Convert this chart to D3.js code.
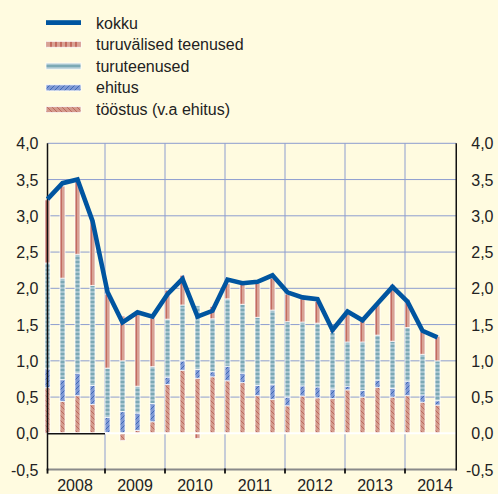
<!DOCTYPE html>
<html>
<head>
<meta charset="utf-8">
<script src="https://cdn.jsdelivr.net/npm/d3@7"></script>
<style>
  html, body { margin: 0; padding: 0; background: #fffbe0; }
  svg { display: block; }
  text { font-family: "Liberation Sans", Arial, sans-serif; fill: #222; }
</style>
</head>
<body>
<svg id="chart" width="498" height="494"></svg>
<script>
// ---- data ----
const quarters = ["2008Q1","2008Q2","2008Q3","2008Q4","2009Q1","2009Q2","2009Q3","2009Q4",
  "2010Q1","2010Q2","2010Q3","2010Q4","2011Q1","2011Q2","2011Q3","2011Q4",
  "2012Q1","2012Q2","2012Q3","2012Q4","2013Q1","2013Q2","2013Q3","2013Q4",
  "2014Q1","2014Q2","2014Q3"];
const years = ["2008","2009","2010","2011","2012","2013","2014"];
const toostus = [0.63,0.44,0.52,0.40,0.01,-0.10,0.04,0.16,0.675,0.87,0.76,0.78,0.725,0.70,0.52,0.47,0.38,0.515,0.49,0.48,0.60,0.50,0.635,0.50,0.52,0.43,0.39];
const ehitus = [0.26,0.30,0.31,0.26,0.21,0.30,0.24,0.25,0.10,0.13,0.12,0.07,0.20,0.13,0.14,0.20,0.12,0.14,0.15,0.13,0.05,0.09,0.10,0.12,0.20,0.10,0.06];
const turuteenused = [1.46,1.40,1.64,1.38,0.68,0.70,0.37,0.51,0.80,0.77,0.88,0.73,0.93,0.95,0.94,1.03,1.04,0.88,0.88,0.78,0.61,0.67,0.62,0.65,0.74,0.56,0.55];
const turuvalised = [0.87,1.27,1.01,0.90,1.02,0.62,0.99,0.67,0.40,0.41,-0.07,0.17,0.21,0.29,0.47,0.44,0.38,0.32,0.30,0.03,0.38,0.30,0.42,0.78,0.39,0.31,0.34];
const kokku = [3.23,3.45,3.50,2.93,1.95,1.53,1.67,1.61,1.92,2.13,1.61,1.69,2.12,2.07,2.09,2.18,1.945,1.875,1.85,1.425,1.68,1.56,1.79,2.02,1.815,1.415,1.325];
const yTicks = [-0.5,0,0.5,1,1.5,2,2.5,3,3.5,4];
const legendLabels = ["kokku","turuvälised teenused","turuteenused","ehitus","tööstus (v.a ehitus)"];

const seriesKeys = ["toostus","ehitus","turuteenused","turuvalised"];
const table = quarters.map((q,i)=>({q, toostus:toostus[i], ehitus:ehitus[i], turuteenused:turuteenused[i], turuvalised:turuvalised[i]}));

// ---- setup ----
const svg = d3.select("#chart");
const x = d3.scaleLinear().domain([0, 27.25]).range([47.5, 456.25]);
const y = d3.scaleLinear().domain([-0.5, 4]).range([469.6, 143.3]);
const fmt = v => d3.format(".1f")(v).replace(".", ",").replace("−","-");

const defs = svg.append("defs");
function pat(id, w, h, bg, draw) {
  const p = defs.append("pattern").attr("id", id).attr("patternUnits","userSpaceOnUse")
    .attr("width", w).attr("height", h);
  p.append("rect").attr("width", w).attr("height", h).attr("fill", bg);
  draw(p);
}
pat("p-tv", 5, 5, "#d8a294", p => p.append("line").attr("x1",1).attr("x2",1).attr("y1",0).attr("y2",5).attr("stroke","#b5463c").attr("stroke-width",1.2));
pat("p-tt", 4, 4, "#a8c6d0", p => p.append("line").attr("x1",0).attr("x2",4).attr("y1",2).attr("y2",2).attr("stroke","#4f8d9b").attr("stroke-width",1));
pat("p-eh", 5, 5, "#7f99d4", p => p.append("path").attr("d","M0,5L5,0M-1,1L1,-1M4,6L6,4").attr("stroke","#3863b3").attr("stroke-width",0.9));
pat("p-to", 5, 5, "#d49b8c", p => p.append("path").attr("d","M0,0L5,5M4,-1L6,1M-1,4L1,6").attr("stroke","#b9625a").attr("stroke-width",0.9));
const fills = {toostus:"url(#p-to)", ehitus:"url(#p-eh)", turuteenused:"url(#p-tt)", turuvalised:"url(#p-tv)"};

const xL = x(0), xR = x(27.25);
const yBoundary = k => x(4*k) - 2.5;

// horizontal gridlines
svg.append("g").selectAll("line").data(yTicks.filter(v=>v>0)).join("line")
  .attr("x1", xL).attr("x2", xR).attr("y1", d=>y(d)).attr("y2", d=>y(d))
  .attr("stroke", "#8d9dcf").attr("stroke-width", 1);

// vertical year gridlines
svg.append("g").selectAll("line").data(d3.range(1, years.length)).join("line")
  .attr("x1", d=>yBoundary(d)).attr("x2", d=>yBoundary(d))
  .attr("y1", y(4)).attr("y2", y(-0.5))
  .attr("stroke", "#8d9dcf").attr("stroke-width", 1);

// stacked bars
const stack = d3.stack().keys(seriesKeys).offset(d3.stackOffsetDiverging);
const stacked = stack(table);
const barW = 5;
svg.append("g").selectAll("g").data(stacked).join("g")
  .attr("fill", d => fills[d.key])
  .selectAll("rect").data(d => d).join("rect")
  .attr("x", (d,i) => x(i) - barW/2)
  .attr("width", barW)
  .attr("y", d => y(Math.max(d[0], d[1])))
  .attr("height", d => Math.abs(y(d[0]) - y(d[1])))
  .attr("stroke", "#ffffff").attr("stroke-opacity", 0.75).attr("stroke-width", 1);

// zero line
svg.append("line").attr("x1", xL).attr("x2", xR).attr("y1", y(0)).attr("y2", y(0))
  .attr("stroke", "#ffffff").attr("stroke-width", 2);
svg.append("line").attr("x1", xL).attr("x2", yBoundary(1)).attr("y1", y(0)+0.5).attr("y2", y(0)+0.5)
  .attr("stroke", "#111").attr("stroke-width", 1.5);

// bottom axis
svg.append("line").attr("x1", xL).attr("x2", xR).attr("y1", y(-0.5)).attr("y2", y(-0.5))
  .attr("stroke", "#8a8a8a").attr("stroke-width", 2);
svg.append("g").selectAll("line").data(d3.range(0, years.length)).join("line")
  .attr("x1", d => d===0 ? xL : yBoundary(d)).attr("x2", d => d===0 ? xL : yBoundary(d))
  .attr("y1", y(-0.5)-1).attr("y2", y(-0.5)+4)
  .attr("stroke", "#111").attr("stroke-width", 1.8);

// left and right axes
svg.append("line").attr("x1", xL).attr("x2", xL).attr("y1", y(4)).attr("y2", y(-0.5)+1)
  .attr("stroke", "#111").attr("stroke-width", 1.5);
svg.append("line").attr("x1", xR).attr("x2", xR).attr("y1", y(4)).attr("y2", y(-0.5)+1)
  .attr("stroke", "#111").attr("stroke-width", 1.5);

// tick labels
svg.append("g").selectAll("text").data(yTicks).join("text")
  .attr("x", 38.5).attr("y", d => y(d) + 6).attr("text-anchor", "end")
  .attr("font-size", 16).text(fmt);
svg.append("g").selectAll("text").data(yTicks).join("text")
  .attr("x", 493.5).attr("y", d => y(d) + 6).attr("text-anchor", "end")
  .attr("font-size", 16).text(fmt);

// year labels
svg.append("g").selectAll("text").data(years).join("text")
  .attr("x", (d,i) => x(4*i) + 27.5).attr("y", 491).attr("text-anchor", "middle")
  .attr("font-size", 16).text(d => d);

// total line
const line = d3.line().x((d,i) => x(i)).y(d => y(d));
svg.append("path").datum(kokku).attr("d", line)
  .attr("fill", "none").attr("stroke", "#0055a0").attr("stroke-width", 4.6)
  .attr("stroke-linejoin", "miter").attr("stroke-miterlimit", 3);

// legend
const lg = svg.append("g");
const legFills = [null, "url(#p-tv)", "url(#p-tt)", "url(#p-eh)", "url(#p-to)"];
legendLabels.forEach((lab, i) => {
  const cy = 22.6 + 21.75 * i;
  if (i === 0) {
    lg.append("rect").attr("x", 46).attr("y", cy - 2.4).attr("width", 35).attr("height", 4.8).attr("fill", "#0055a0");
  } else {
    lg.append("rect").attr("x", 46).attr("y", cy - 3).attr("width", 35).attr("height", 6)
      .attr("fill", legFills[i]).attr("stroke", "#ffffff").attr("stroke-opacity", 0.8).attr("stroke-width", 1);
  }
  lg.append("text").attr("x", 96).attr("y", 28.5 + 21.6 * i).attr("font-size", 16).text(lab);
});
</script>
</body>
</html>
